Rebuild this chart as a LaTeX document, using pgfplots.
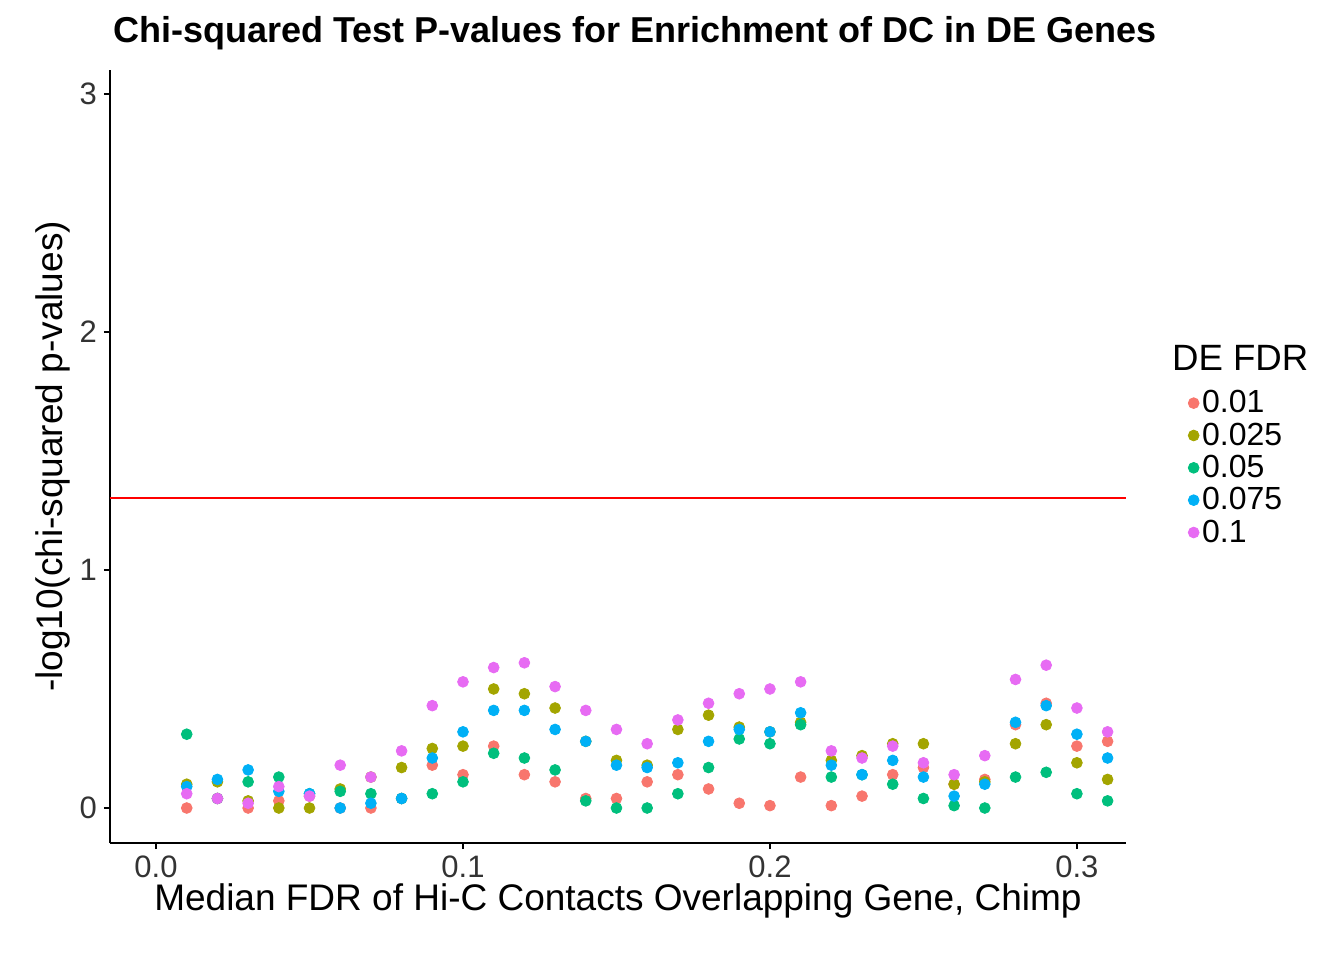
\documentclass[border=0pt]{standalone}
\usepackage{pgfplots}
\pgfplotsset{compat=1.18}
\usepackage{fontspec}
\setmainfont{Liberation Sans}
\definecolor{c1}{HTML}{F8766D}
\definecolor{c2}{HTML}{A3A500}
\definecolor{c3}{HTML}{00BF7D}
\definecolor{c4}{HTML}{00B0F6}
\definecolor{c5}{HTML}{E76BF3}
\begin{document}
\begin{tikzpicture}
\path (-55pt,-58.5pt) rectangle (617pt,421.5pt);
\begin{axis}[at={(0,0)},anchor=south west,scale only axis,width=508pt,height=386.5pt,
 xmin=-0.015,xmax=0.316,ymin=-0.147,ymax=3.10,
 axis x line*=bottom, axis y line*=left, axis line style={black,line width=0.8pt,-},
 xtick={0,0.1,0.2,0.3}, xticklabels={0.0,0.1,0.2,0.3}, ytick={0,1,2,3},
 tick style={black,line width=0.8pt}, tick align=outside, major tick length=3pt,
 tick label style={font=\fontsize{15.5}{18}\selectfont,text=black!80},
 /pgf/number format/assume math mode=true,
 xlabel={Median FDR of Hi-C Contacts Overlapping Gene, Chimp},
 ylabel={-log10(chi-squared p-values)},
 label style={font=\fontsize{18.5}{21}\selectfont},
 xlabel style={yshift=4pt}, ylabel style={yshift=-2pt},
 clip=false,
 legend style={at={(1.055,0.595)},anchor=north west,draw=none,fill=none,font=\fontsize{16}{18}\selectfont,row sep=0.5pt,
   nodes={inner sep=1.5pt}},
 legend cell align=left,
 legend image code/.code={\draw[#1] plot coordinates {(0.15cm,0cm)};},
]
\addplot[color=c1,only marks,mark=*,mark size=2.7pt] coordinates {(0.01,0)(0.02,0.04)(0.03,0)(0.04,0.03)(0.05,0.05)(0.06,0)(0.07,0)(0.08,0.04)(0.09,0.18)(0.10,0.14)(0.11,0.26)(0.12,0.14)(0.13,0.11)(0.14,0.04)(0.15,0.04)(0.16,0.11)(0.17,0.14)(0.18,0.08)(0.19,0.02)(0.20,0.01)(0.21,0.13)(0.22,0.01)(0.23,0.05)(0.24,0.14)(0.25,0.17)(0.26,0.10)(0.27,0.12)(0.28,0.35)(0.29,0.44)(0.30,0.26)(0.31,0.28)};
\addplot[color=c2,only marks,mark=*,mark size=2.7pt] coordinates {(0.01,0.10)(0.02,0.11)(0.03,0.03)(0.04,0)(0.05,0)(0.06,0.08)(0.07,0.13)(0.08,0.17)(0.09,0.25)(0.10,0.26)(0.11,0.50)(0.12,0.48)(0.13,0.42)(0.14,0.28)(0.15,0.20)(0.16,0.18)(0.17,0.33)(0.18,0.39)(0.19,0.34)(0.20,0.32)(0.21,0.36)(0.22,0.20)(0.23,0.22)(0.24,0.27)(0.25,0.27)(0.26,0.10)(0.27,0.11)(0.28,0.27)(0.29,0.35)(0.30,0.19)(0.31,0.12)};
\addplot[color=c3,only marks,mark=*,mark size=2.7pt] coordinates {(0.01,0.31)(0.02,0.04)(0.03,0.11)(0.04,0.13)(0.05,0.06)(0.06,0.07)(0.07,0.06)(0.08,0.04)(0.09,0.06)(0.10,0.11)(0.11,0.23)(0.12,0.21)(0.13,0.16)(0.14,0.03)(0.15,0)(0.16,0)(0.17,0.06)(0.18,0.17)(0.19,0.29)(0.20,0.27)(0.21,0.35)(0.22,0.13)(0.23,0.14)(0.24,0.10)(0.25,0.04)(0.26,0.01)(0.27,0)(0.28,0.13)(0.29,0.15)(0.30,0.06)(0.31,0.03)};
\addplot[color=c4,only marks,mark=*,mark size=2.7pt] coordinates {(0.01,0.09)(0.02,0.12)(0.03,0.16)(0.04,0.07)(0.05,0.06)(0.06,0)(0.07,0.02)(0.08,0.04)(0.09,0.21)(0.10,0.32)(0.11,0.41)(0.12,0.41)(0.13,0.33)(0.14,0.28)(0.15,0.18)(0.16,0.17)(0.17,0.19)(0.18,0.28)(0.19,0.33)(0.20,0.32)(0.21,0.40)(0.22,0.18)(0.23,0.14)(0.24,0.20)(0.25,0.13)(0.26,0.05)(0.27,0.10)(0.28,0.36)(0.29,0.43)(0.30,0.31)(0.31,0.21)};
\addplot[color=c5,only marks,mark=*,mark size=2.7pt] coordinates {(0.01,0.06)(0.02,0.04)(0.03,0.02)(0.04,0.09)(0.05,0.05)(0.06,0.18)(0.07,0.13)(0.08,0.24)(0.09,0.43)(0.10,0.53)(0.11,0.59)(0.12,0.61)(0.13,0.51)(0.14,0.41)(0.15,0.33)(0.16,0.27)(0.17,0.37)(0.18,0.44)(0.19,0.48)(0.20,0.50)(0.21,0.53)(0.22,0.24)(0.23,0.21)(0.24,0.26)(0.25,0.19)(0.26,0.14)(0.27,0.22)(0.28,0.54)(0.29,0.60)(0.30,0.42)(0.31,0.32)};
\legend{0.01,0.025,0.05,0.075,0.1}
\addplot[red,line width=0.9pt,sharp plot,no marks,forget plot] coordinates {(-0.015,1.301)(0.316,1.301)};
\node[anchor=south west,inner sep=0pt,font=\bfseries\fontsize{18}{20}\selectfont] at (rel axis cs:0.003,1.025) {Chi-squared Test P-values for Enrichment of DC in DE Genes};
\node[anchor=west,inner sep=0pt,font=\fontsize{18.3}{20}\selectfont] at (rel axis cs:1.045,0.627) {DE FDR};
\end{axis}
\end{tikzpicture}
\end{document}
